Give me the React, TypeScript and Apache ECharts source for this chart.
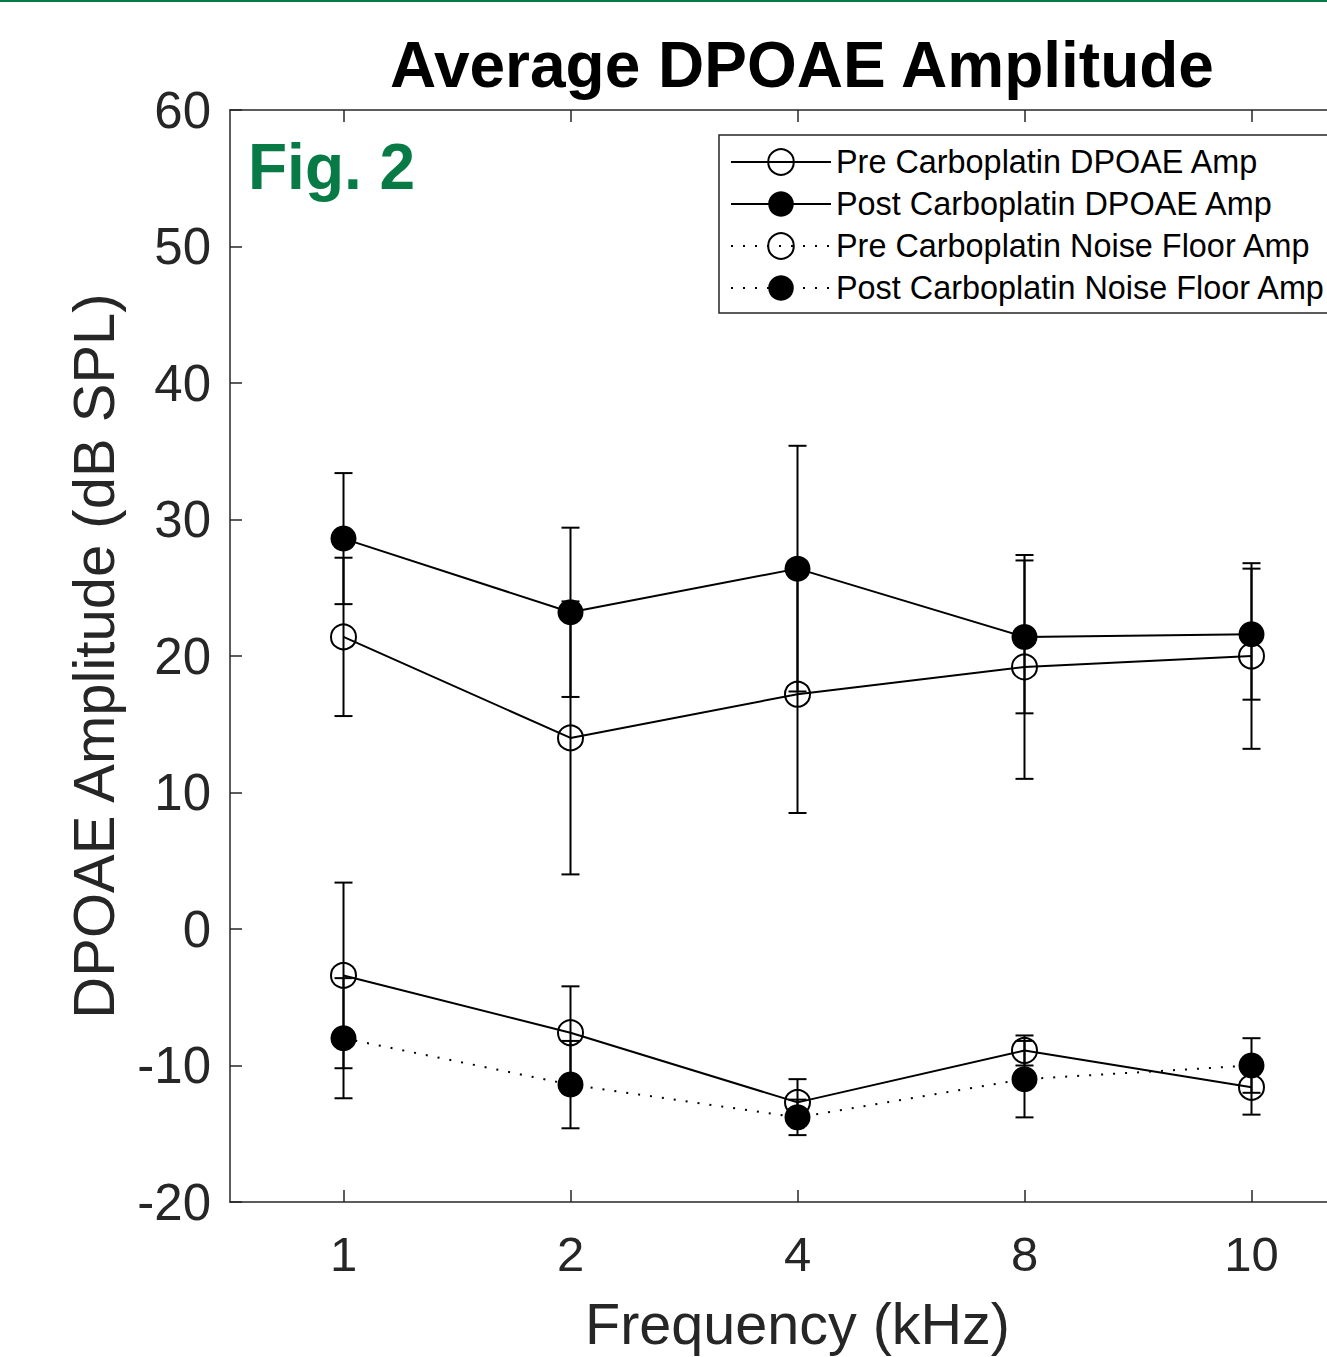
import React, { useEffect, useRef } from 'react';
import * as echarts from 'echarts';

// ---- data ----
const categories = ['1', '2', '4', '8', '10'];

const preAmp = [21.4, 14.0, 17.2, 19.2, 20.0];
const preAmpErr = [5.8, 10.0, 8.7, 8.2, 6.8];

const postAmp = [28.6, 23.2, 26.4, 21.4, 21.6];
const postAmpErr = [4.8, 6.2, 9.0, 5.6, 4.8];

const preNoise = [-3.4, -7.6, -12.7, -8.9, -11.6];
const preNoiseErr = [6.8, 3.4, 1.7, 1.1, 2.0];

const postNoise = [-8.0, -11.4, -13.8, -11.0, -10.0];
const postNoiseErr = [4.4, 3.2, 1.3, 2.8, 2.0];

const seriesNames = [
  'Pre Carboplatin DPOAE Amp',
  'Post Carboplatin DPOAE Amp',
  'Pre Carboplatin Noise Floor Amp',
  'Post Carboplatin Noise Floor Amp',
];

const titleText = 'Average DPOAE Amplitude';
const figText = 'Fig. 2';
const xName = 'Frequency (kHz)';
const yName = 'DPOAE Amplitude (dB SPL)';

const ink = '#262626';
const green = '#087a46';
const font = '"Liberation Sans", Arial, Helvetica, sans-serif';
const DOTS = [2, 10];

function errSeries(name: string, means: number[], errs: number[]) {
  return {
    type: 'custom',
    name: name + ' error',
    silent: true,
    z: 1,
    data: means.map((m, i) => [i, m - errs[i], m + errs[i]]),
    encode: { x: 0, y: [1, 2] },
    renderItem: (_params: any, api: any) => {
      const x = api.value(0);
      const lo = api.coord([x, api.value(1)]);
      const hi = api.coord([x, api.value(2)]);
      const hw = 9;
      const style = { stroke: '#000', lineWidth: 2, fill: 'none' };
      return {
        type: 'group',
        children: [
          { type: 'line', shape: { x1: lo[0], y1: lo[1], x2: hi[0], y2: hi[1] }, style },
          { type: 'line', shape: { x1: lo[0] - hw, y1: lo[1], x2: lo[0] + hw, y2: lo[1] }, style },
          { type: 'line', shape: { x1: hi[0] - hw, y1: hi[1], x2: hi[0] + hw, y2: hi[1] }, style },
        ],
      };
    },
  };
}

function lineSeries(name: string, data: number[], filled: boolean, dotted: boolean) {
  return {
    type: 'line',
    name,
    data,
    z: 3,
    symbol: 'circle',
    symbolSize: filled ? 26 : 25,
    itemStyle: {
      color: filled ? '#000' : 'rgba(0,0,0,0)',
      borderColor: '#000',
      borderWidth: filled ? 0 : 2,
    },
    lineStyle: { color: '#000', width: 2, type: dotted ? DOTS : 'solid' },
    emphasis: { disabled: true },
  };
}

export default function App() {
  const ref = useRef<HTMLDivElement>(null);

  useEffect(() => {
    const chart = echarts.init(ref.current!, null, { renderer: 'svg' });

    const axisLine = { show: true, onZero: false, lineStyle: { color: ink, width: 1.5 } };
    const axisTick = {
      show: true,
      inside: true,
      length: 12,
      alignWithLabel: true,
      lineStyle: { color: ink, width: 1.5 },
    };

    chart.setOption({
      animation: false,
      backgroundColor: '#fff',
      textStyle: { fontFamily: font },
      grid: {
        left: 230,
        top: 110,
        width: 1135,
        height: 1092,
        containLabel: false,
        outerBoundsMode: 'none',
      },
      legend: {
        show: true,
        orient: 'vertical',
        left: 719,
        top: 135,
        padding: [11, 14, 9, 11],
        itemGap: 10,
        itemWidth: 100,
        itemHeight: 32,
        borderColor: ink,
        borderWidth: 1.5,
        backgroundColor: '#fff',
        selectedMode: false,
        textStyle: { fontSize: 32.4, color: '#000', fontFamily: font },
        data: [
          { name: seriesNames[0] },
          { name: seriesNames[1] },
          { name: seriesNames[2], lineStyle: { type: DOTS } },
          { name: seriesNames[3] },
        ],
      },
      xAxis: [
        {
          type: 'category',
          data: categories,
          position: 'bottom',
          axisLine,
          axisTick,
          splitLine: { show: false },
          axisLabel: { fontSize: 49, color: ink, margin: 27, fontFamily: font },
          name: xName,
          nameLocation: 'middle',
          nameGap: 93,
          nameTextStyle: { fontSize: 57.5, color: ink, fontFamily: font },
        },
        {
          type: 'category',
          data: categories,
          position: 'top',
          axisLine,
          axisTick,
          splitLine: { show: false },
          axisLabel: { show: false },
        },
      ],
      yAxis: [
        {
          type: 'value',
          min: -20,
          max: 60,
          interval: 10,
          axisLine,
          axisTick: { show: true, inside: true, length: 12, lineStyle: { color: ink, width: 1.5 } },
          splitLine: { show: false },
          axisLabel: { fontSize: 51, color: ink, margin: 19, fontFamily: font },
          name: yName,
          nameLocation: 'middle',
          nameRotate: 90,
          nameGap: 108,
          nameTextStyle: { fontSize: 58, color: ink, fontFamily: font },
        },
      ],
      graphic: [
        { type: 'rect', shape: { x: 0, y: 0, width: 1327, height: 2 }, style: { fill: green }, silent: true },
        {
          type: 'text',
          x: 802,
          y: 65,
          style: {
            text: titleText,
            fontSize: 64,
            fontWeight: 'bold',
            fontFamily: font,
            fill: '#000',
            align: 'center',
            verticalAlign: 'middle',
          },
          silent: true,
        },
        {
          type: 'text',
          x: 248,
          y: 167,
          style: {
            text: figText,
            fontSize: 64,
            fontWeight: 'bold',
            fontFamily: font,
            fill: green,
            align: 'left',
            verticalAlign: 'middle',
          },
          silent: true,
        },
      ],
      series: [
        errSeries(seriesNames[0], preAmp, preAmpErr),
        errSeries(seriesNames[1], postAmp, postAmpErr),
        errSeries(seriesNames[2], preNoise, preNoiseErr),
        errSeries(seriesNames[3], postNoise, postNoiseErr),
        lineSeries(seriesNames[0], preAmp, false, false),
        lineSeries(seriesNames[1], postAmp, true, false),
        lineSeries(seriesNames[2], preNoise, false, false),
        lineSeries(seriesNames[3], postNoise, true, true),
      ],
    });

    return () => {
      chart.dispose();
    };
  }, []);

  return (
    <div
      ref={ref}
      style={{ position: 'fixed', left: 0, top: 0, width: 1327, height: 1357, background: '#fff' }}
    />
  );
}
